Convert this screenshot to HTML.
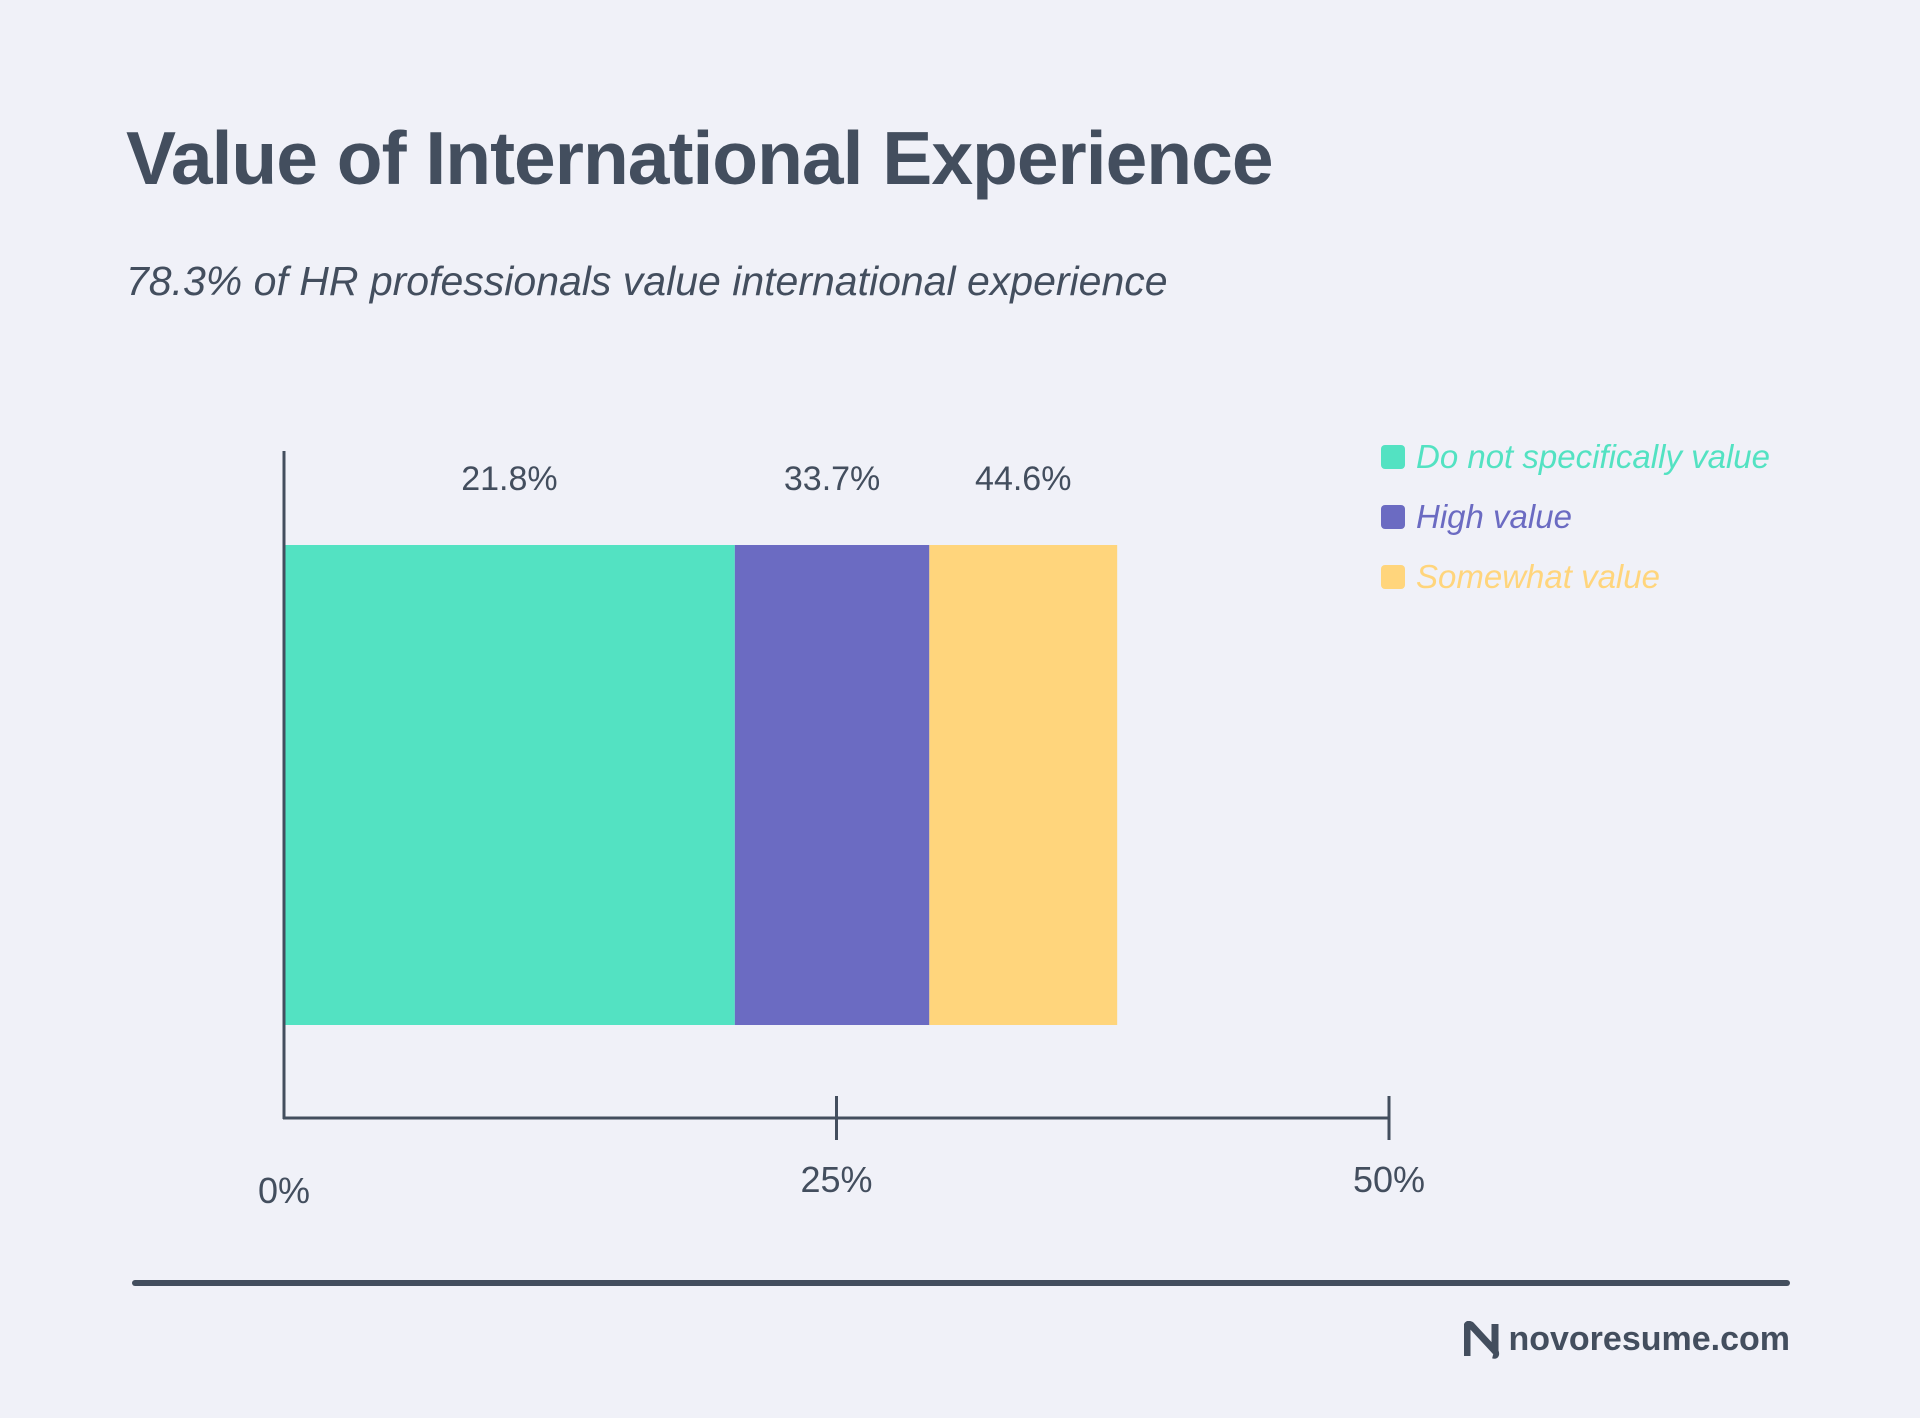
<!DOCTYPE html>
<html><head><meta charset="utf-8">
<style>
html,body{margin:0;padding:0;background:#f0f1f8;}
body{width:1920px;height:1418px;position:relative;overflow:hidden;font-family:"Liberation Sans",sans-serif;color:#434e5e;}
.t{position:absolute;white-space:nowrap;}
</style></head>
<body>
<div class="t" style="left:126px;top:115px;font-size:75px;font-weight:bold;letter-spacing:-1px;">Value of International Experience</div>
<div class="t" style="left:126px;top:258px;font-size:41px;font-style:italic;">78.3% of HR professionals value international experience</div>
<svg id="chart" width="1920" height="1418" style="position:absolute;left:0;top:0" xmlns="http://www.w3.org/2000/svg"></svg>
<div style="position:absolute;left:132px;top:1280px;width:1658px;height:6px;background:#434e5e;border-radius:3px;"></div>
<div style="position:absolute;right:130px;top:1320px;display:flex;align-items:center;">
<svg width="38" height="38" viewBox="0 0 38 38"><path d="M3 35 V6 Q3 2 7 4 L31 30 V3 M31 30 Q33 35 29 34" fill="none" stroke="#434e5e" stroke-width="7" stroke-linejoin="round"/></svg>
<span style="font-size:34px;font-weight:bold;margin-left:6px;">novoresume.com</span>
</div>
<script>
const categories=["Do not specifically value","High value","Somewhat value"];
const values=[20.4,8.8,8.5];
const labels=["21.8%","33.7%","44.6%"];
const colors=["#53e2c2","#6b6bc2","#ffd57c"];
const ticks=[0,25,50];
const tickLabels=["0%","25%","50%"];
const svg=document.getElementById('chart');
const NS="http://www.w3.org/2000/svg";
const x0=284,x1=1389,dmax=50;
const x=v=>x0+(v/dmax)*(x1-x0);
const barTop=545,barBot=1025;
function mk(t,a){const e=document.createElementNS(NS,t);for(const k in a)e.setAttribute(k,a[k]);svg.appendChild(e);return e;}
let acc=0;
values.forEach((v,i)=>{
 const r=mk('rect',{x:x(acc),y:barTop,width:x(acc+v)-x(acc),height:barBot-barTop,fill:colors[i]});
 
 
 const t=mk('text',{x:(x(acc)+x(acc+v))/2,y:490,'text-anchor':'middle','font-size':34,fill:'#434e5e','font-family':'Liberation Sans, sans-serif'});
 t.textContent=labels[i];
 
 
 acc+=v;
});
const ya=mk('line',{x1:x0,y1:451,x2:x0,y2:1119,stroke:'#434e5e','stroke-width':3});


const xa=mk('line',{x1:x0-1,y1:1118,x2:x1,y2:1118,stroke:'#434e5e','stroke-width':3});


ticks.forEach((tv,i)=>{
 if(i>0){const l=mk('line',{x1:x(tv),y1:1096,x2:x(tv),y2:1140,stroke:'#434e5e','stroke-width':3});
 
 }
 const t=mk('text',{x:x(tv),y:i==0?1203:1192,'text-anchor':'middle','font-size':36,fill:'#434e5e','font-family':'Liberation Sans, sans-serif'});
 t.textContent=tickLabels[i];
 
 
});
categories.forEach((c,i)=>{
 const y=457+i*60;
 const r=mk('rect',{x:1381,y:y-12,width:24,height:24,rx:4,fill:colors[i]});
 
 
 const t=mk('text',{x:1416,y:y+11,'font-size':33,'font-style':'italic',fill:colors[i],'font-family':'Liberation Sans, sans-serif'});
 t.textContent=c;
 
 
});
</script>
</body></html>
